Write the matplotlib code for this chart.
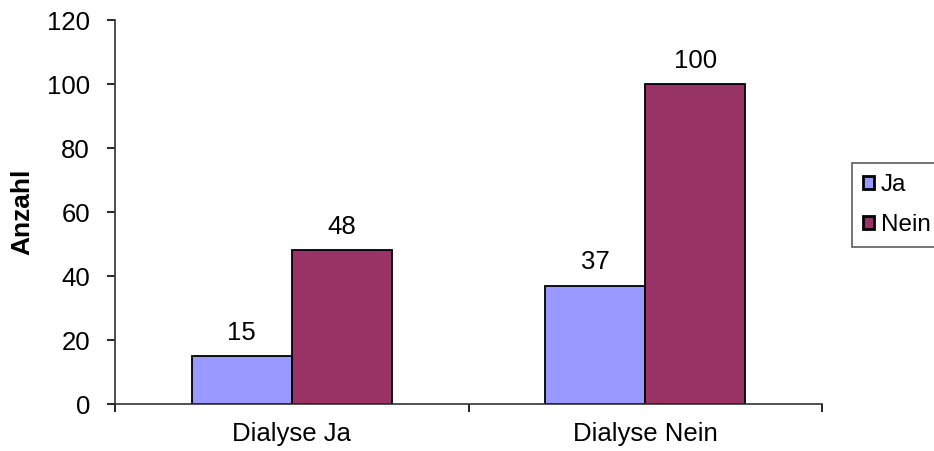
import numpy as np
import matplotlib.pyplot as plt

plt.rcParams['font.family'] = ['Liberation Sans', 'DejaVu Sans']

groups = ['Dialyse Ja', 'Dialyse Nein']
series = ['Ja', 'Nein']
ja_counts = [15, 37]
nein_counts = [48, 100]
colors = ['#9999FF', '#993366']

fig = plt.figure(figsize=(9.34, 4.51), dpi=100)
ax = fig.add_axes([115 / 934, 1 - 404 / 451, 707 / 934, 384 / 451])

x = np.arange(len(groups))
w = 0.283
bars_ja = ax.bar(x - w / 2, ja_counts, w, color=colors[0], edgecolor='black', linewidth=1.3, label=series[0])
bars_nein = ax.bar(x + w / 2, nein_counts, w, color=colors[1], edgecolor='black', linewidth=1.3, label=series[1])

# value labels above every bar
for bars, vals in [(bars_ja, ja_counts), (bars_nein, nein_counts)]:
    for b, v in zip(bars, vals):
        ax.annotate(str(v), (b.get_x() + b.get_width() / 2, v), xytext=(0, 8),
                    textcoords='offset points', ha='center', va='bottom', fontsize=18.5)

ax.set_xlim(-0.5, len(groups) - 0.5)
ax.set_ylim(0, 120)
ax.set_yticks(range(0, 121, 20))
ax.set_xticks(x)
ax.set_xticklabels(groups)
ax.set_xticks([-0.5, 0.5, 1.5], minor=True)
ax.tick_params(axis='x', which='major', length=0, labelsize=18.5, pad=13)
ax.tick_params(axis='x', which='minor', length=6, width=1.2, direction='out')
ax.tick_params(axis='y', length=6, width=1.2, labelsize=18.5, pad=12)
ax.set_ylabel('Anzahl', fontsize=19, fontweight='bold', labelpad=9)

for side in ['top', 'right']:
    ax.spines[side].set_visible(False)
for side in ['left', 'bottom']:
    ax.spines[side].set_linewidth(1.2)
    ax.spines[side].set_color('#333333')

leg = fig.legend(handles=[bars_ja, bars_nein], labels=series, loc='upper left',
                 bbox_to_anchor=(852 / 934, 1 - 163 / 451), fontsize=17.5,
                 frameon=True, fancybox=False, edgecolor='#333333',
                 handlelength=0.45, handleheight=0.45, handletextpad=0.3,
                 borderpad=0.45, labelspacing=0.75, borderaxespad=0)
leg.get_frame().set_linewidth(1.2)
for h in leg.legend_handles:
    h.set_linewidth(2)

fig.savefig('out.png', dpi=100)
